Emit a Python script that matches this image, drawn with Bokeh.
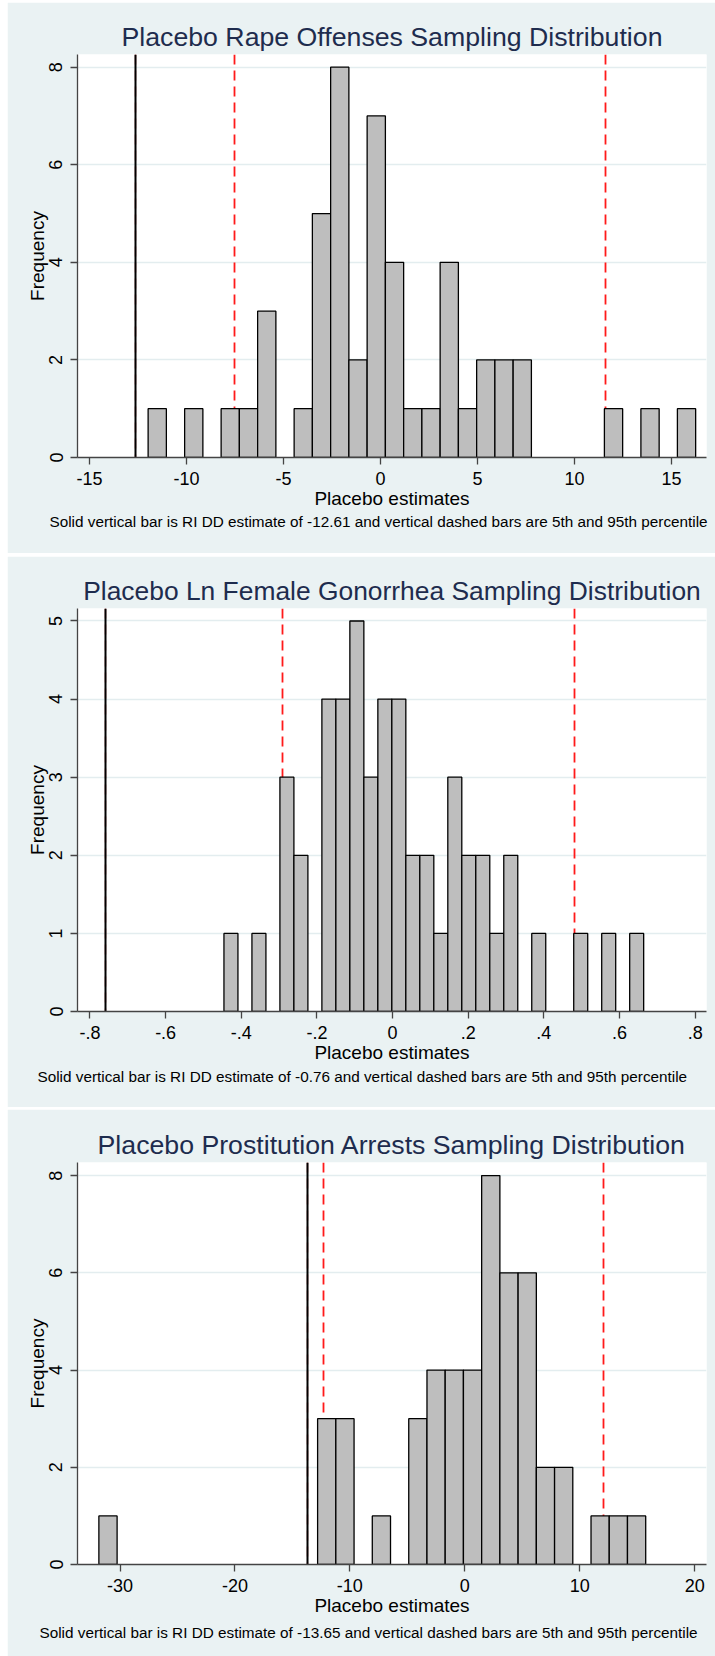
from bokeh.plotting import figure
from bokeh.layouts import column
from bokeh.models import FixedTicker, Range1d, Title
from bokeh.embed import file_html
from bokeh.resources import INLINE

# ---------------- data ----------------
rape_title = "Placebo Rape Offenses Sampling Distribution"
rape_counts = [1, 0, 1, 0, 1, 1, 3, 0, 1, 5, 8, 2, 7, 4, 1, 1, 4, 1, 2, 2, 2,
               0, 0, 0, 0, 1, 0, 1, 0, 1]
rape_bin_start = -11.98
rape_bin_width = 0.9407
rape_ri = -12.61
rape_p5 = -7.54
rape_p95 = 11.61
rape_xticks = [-15, -10, -5, 0, 5, 10, 15]
rape_xlabels = ["-15", "-10", "-5", "0", "5", "10", "15"]
rape_yticks = [0, 2, 4, 6, 8]
rape_note = ("Solid vertical bar is RI DD estimate of -12.61 and vertical dashed "
             "bars are 5th and 95th percentile")

gon_title = "Placebo Ln Female Gonorrhea Sampling Distribution"
gon_counts = [1, 0, 1, 0, 3, 2, 0, 4, 4, 5, 3, 4, 4, 2, 2, 1, 3, 2, 2, 1,
              2, 0, 1, 0, 0, 1, 0, 1, 0, 1]
gon_bin_start = -0.4458
gon_bin_width = 0.03699
gon_ri = -0.76
gon_p5 = -0.2916
gon_p95 = 0.482
gon_xticks = [-0.8, -0.6, -0.4, -0.2, 0, 0.2, 0.4, 0.6, 0.8]
gon_xlabels = ["-.8", "-.6", "-.4", "-.2", "0", ".2", ".4", ".6", ".8"]
gon_yticks = [0, 1, 2, 3, 4, 5]
gon_note = ("Solid vertical bar is RI DD estimate of -0.76 and vertical dashed "
            "bars are 5th and 95th percentile")

pros_title = "Placebo Prostitution Arrests Sampling Distribution"
pros_counts = [1, 0, 0, 0, 0, 0, 0, 0, 0, 0, 0, 0, 3, 3, 0, 1, 0, 3, 4, 4,
               4, 8, 6, 6, 2, 2, 0, 1, 1, 1]
pros_bin_start = -31.84
pros_bin_width = 1.586
pros_ri = -13.65
pros_p5 = -12.33
pros_p95 = 12.09
pros_xticks = [-30, -20, -10, 0, 10, 20]
pros_xlabels = ["-30", "-20", "-10", "0", "10", "20"]
pros_yticks = [0, 2, 4, 6, 8]
pros_note = ("Solid vertical bar is RI DD estimate of -13.65 and vertical dashed "
             "bars are 5th and 95th percentile")

# ---------------- style ----------------
FONT = "Liberation Sans"
BG = "#EAF2F3"
TITLE_COLOR = "#1E2C4E"
BAR_FILL = "#BEBEBE"


def make_panel(title, counts, start, width, ri, p5, p95, xticks, xlabels,
               yticks, note, xr, yr, height, top, bottom, margin,
               note_offset, note_standoff, title_size):
    p = figure(width=708, height=height, output_backend="svg",
               toolbar_location=None, x_range=Range1d(*xr), y_range=Range1d(*yr),
               min_border_left=70, min_border_right=9,
               min_border_top=top, min_border_bottom=bottom, margin=margin)
    p.background_fill_color = "white"
    p.border_fill_color = BG
    p.outline_line_color = None

    p.title.text = title
    p.title.align = "center"
    p.title.text_font = FONT
    p.title.text_font_size = title_size
    p.title.text_font_style = "normal"
    p.title.text_color = TITLE_COLOR
    p.title.standoff = 5

    # grid
    p.xgrid.visible = False
    p.ygrid.ticker = FixedTicker(ticks=yticks)
    p.ygrid.grid_line_color = "#E3EDEF"
    p.ygrid.grid_line_width = 1.5

    # axes
    for ax in (p.xaxis[0], p.yaxis[0]):
        ax.axis_line_color = "#444444"
        ax.axis_line_width = 1.3
        ax.major_tick_line_color = "#444444"
        ax.major_tick_line_width = 1.3
        ax.major_tick_out = 7
        ax.major_tick_in = 0
        ax.minor_tick_line_color = None
        ax.major_label_text_font = FONT
        ax.major_label_text_font_size = "18px"
        ax.major_label_text_color = "black"
        ax.axis_label_text_font = FONT
        ax.axis_label_text_font_size = "19px"
        ax.axis_label_text_font_style = "normal"
        ax.axis_label_text_color = "black"

    p.xaxis.ticker = FixedTicker(ticks=xticks)
    p.xaxis.major_label_overrides = {t: l for t, l in zip(xticks, xlabels)}
    p.xaxis.axis_label = "Placebo estimates"
    p.xaxis.major_label_standoff = 7
    p.xaxis.axis_label_standoff = 0

    p.yaxis.ticker = FixedTicker(ticks=yticks)
    p.yaxis.major_label_overrides = {t: str(t) for t in yticks}
    p.yaxis.major_label_orientation = "vertical"
    p.yaxis.axis_label = "Frequency"
    p.yaxis.major_label_standoff = 8
    p.yaxis.axis_label_standoff = -1

    # reference lines (drawn beneath bars)
    p.vspan(x=[ri], line_color="#D01010", line_width=1.3, line_dash="10 6")
    p.vspan(x=[ri], line_color="black", line_width=2)
    p.vspan(x=[p5, p95], line_color="#FF1A1A", line_width=1.8, line_dash="10 6")

    # histogram bars
    lefts = [start + i * width for i in range(len(counts))]
    rights = [l + width for l in lefts]
    keep = [i for i, c in enumerate(counts) if c > 0]
    p.quad(left=[lefts[i] for i in keep], right=[rights[i] for i in keep],
           bottom=0, top=[counts[i] for i in keep],
           fill_color=BAR_FILL, line_color="black", line_width=1.3)

    cap = Title(text=note, align="left", offset=note_offset,
                vertical_align="middle", standoff=note_standoff,
                text_font=FONT, text_font_size="15.3px",
                text_font_style="normal", text_color="black")
    p.add_layout(cap, "below")
    return p


p1 = make_panel(rape_title, rape_counts, rape_bin_start, rape_bin_width,
                rape_ri, rape_p5, rape_p95, rape_xticks, rape_xlabels,
                rape_yticks, rape_note, (-15.62, 16.80), (0, 8.26),
                551, 52, 96, (2, 0, 0, 7), -28, 0, "26.7px")
p2 = make_panel(gon_title, gon_counts, gon_bin_start, gon_bin_width,
                gon_ri, gon_p5, gon_p95, gon_xticks, gon_xlabels,
                gon_yticks, gon_note, (-0.833, 0.830), (0, 5.16),
                551, 52, 96, (3, 0, 0, 7), -40, 3, "26.4px")
p3 = make_panel(pros_title, pros_counts, pros_bin_start, pros_bin_width,
                pros_ri, pros_p5, pros_p95, pros_xticks, pros_xlabels,
                pros_yticks, pros_note, (-33.7, 21.03), (0, 8.27),
                547, 53, 92, (2, 0, 0, 7), -38, 9, "26.7px")

layout = column(p1, p2, p3, spacing=0)
open("out.html", "w").write(file_html(layout, INLINE))
